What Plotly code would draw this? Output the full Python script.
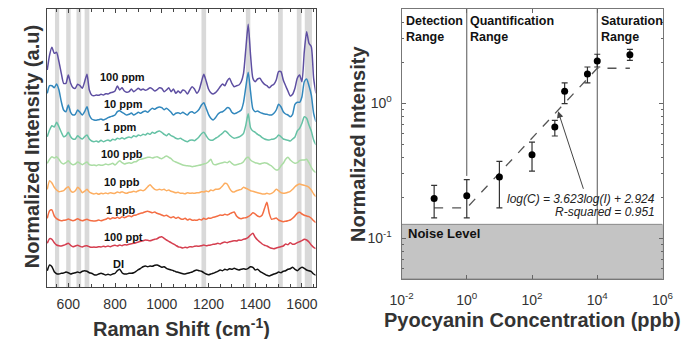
import math
import plotly.graph_objects as go

# ---------------- Left panel data (Raman spectra, stacked, arbitrary units) ----------------
wavenumber = [510, 520, 530, 540, 550, 560, 570, 580, 590, 600,
              610, 620, 630, 640, 650, 660, 670, 680, 690, 700,
              710, 720, 730, 740, 750, 760, 770, 780, 790, 800,
              810, 820, 830, 840, 850, 860, 870, 880, 890, 900,
              910, 920, 930, 940, 950, 960, 970, 980, 990, 1000,
              1010, 1020, 1030, 1040, 1050, 1060, 1070, 1080, 1090, 1100,
              1110, 1120, 1130, 1140, 1150, 1160, 1170, 1180, 1190, 1200,
              1210, 1220, 1230, 1240, 1250, 1260, 1270, 1280, 1290, 1300,
              1310, 1320, 1330, 1340, 1350, 1360, 1370, 1380, 1390, 1400,
              1410, 1420, 1430, 1440, 1450, 1460, 1470, 1480, 1490, 1500,
              1510, 1520, 1530, 1540, 1550, 1560, 1570, 1580, 1590, 1600,
              1610, 1620, 1630, 1640, 1650, 1660]

spec_100ppm = [217, 232, 239.7, 233.7, 234.7, 225.3, 213.7, 203.7, 203.7, 212,
               203.7, 199.3, 198.7, 202.7, 201.3, 198.7, 205.3, 212.7, 197, 192,
               191.3, 192, 191.7, 192.7, 192, 193.3, 193, 194.3, 194.7, 196,
               201, 197, 199.3, 196, 194.7, 195.3, 198, 195.3, 197, 198.7,
               197, 198, 196.7, 197.7, 199.3, 198, 196, 197.3, 199.3, 198.7,
               195.3, 197, 199.3, 195.3, 198, 193.7, 196, 194, 197, 196,
               193, 197, 200.3, 198, 193.7, 197, 205.3, 212.7, 206, 198,
               194.3, 193, 194.3, 197, 200.3, 203, 201.3, 206, 208.7, 203.7,
               200.3, 201.3, 202, 205.3, 213.7, 238.7, 262.7, 232, 208.7, 205.3,
               208, 208.7, 205.3, 202.7, 201.3, 199.3, 201.3, 202.7, 207, 215.3,
               215.3, 207, 201.3, 196, 191, 192.7, 198.7, 208.7, 212, 205.3,
               235.3, 255.3, 243.7, 240.3, 208.7, 193.7]

spec_10ppm = [193.7, 201.3, 201.3, 199.3, 203, 197, 185.3, 177, 175.3, 182,
              174.7, 172, 172.7, 177, 174.7, 172, 175.3, 180.3, 172, 168,
              167, 166.7, 167.3, 168, 167, 168, 169.3, 170.3, 171, 172,
              175.3, 176.3, 174.7, 173.3, 172, 172.7, 174, 172, 173.3, 174.7,
              173.7, 175.3, 176, 174.7, 177, 178.7, 177.7, 179.3, 180, 179.3,
              177.3, 178.7, 177, 174.7, 172, 173.7, 174.3, 173.3, 174.7, 173.3,
              172, 174.7, 175.3, 173.7, 175.3, 177.7, 182, 184.3, 178.7, 172.7,
              168.7, 167, 169.3, 172.7, 174.7, 175.3, 177, 179.3, 178.7, 174.7,
              173.3, 174, 175.3, 177, 184.7, 200.3, 214.7, 195.3, 178, 175.3,
              176, 174.7, 173.7, 173, 172.7, 172, 172, 173.7, 177, 182.7,
              180.3, 175.3, 173, 172, 170.3, 172.7, 182.7, 184.7, 184.7, 190.3,
              205.3, 208, 201.3, 192, 173.7, 165.3]

spec_1ppm = [150.3, 157, 161.3, 160, 164.7, 160.3, 154.7, 150.3, 151.3, 154.7,
             150.3, 148, 148, 151.3, 149.3, 148, 150.3, 152, 148, 146,
             145.3, 146, 145, 146.7, 145.3, 146.3, 147, 146, 147.7, 147,
             148.7, 148, 149.3, 148, 149.3, 150, 149.3, 151.3, 150.3, 152,
             151.3, 152.7, 152, 153.7, 152.7, 154.7, 153.7, 155.3, 156, 154.7,
             152.7, 151.3, 153.3, 151.3, 150.3, 148.7, 148, 148.7, 147.3, 146,
             145.3, 146.7, 147, 146.3, 148, 150.3, 153.3, 154.7, 151.3, 148,
             146.7, 147, 148.7, 150, 152, 153.7, 156, 154.7, 152, 150,
             148.7, 149.3, 150, 151.3, 153.7, 162, 173.3, 159.3, 156, 154.7,
             152.7, 151.3, 149.3, 148, 147.3, 147, 147.7, 148, 149.3, 152,
             150.3, 148, 147.3, 146.7, 146, 148, 150, 156, 158.7, 163.7,
             170.3, 168.7, 162, 156, 147, 142]

spec_100ppb = [123.7, 127.7, 130.3, 129, 130.3, 127.7, 124.3, 123, 124.3, 126.3,
               123.7, 122.3, 123, 125, 123.7, 122.3, 123.7, 125, 122.3, 121.7,
               122, 121.3, 122.3, 121.7, 122, 123, 122.3, 122.7, 123.7, 122,
               124.3, 126.3, 124.3, 123, 123.7, 124.3, 123.7, 125, 125.3, 127,
               127.7, 128.3, 129, 129.7, 129.7, 129, 129.7, 130.3, 129, 128.3,
               129.7, 131, 129.7, 128.3, 126, 125, 124, 123, 122, 121.5,
               121.3, 121, 120.3, 120.7, 121.3, 121.7, 122.3, 123, 123.7, 125.3,
               127.7, 123, 122.3, 123, 123.7, 124.3, 125, 124.3, 125.7, 123.7,
               122, 122.3, 123, 123.7, 125.3, 128.7, 129.7, 127, 125.3, 124.3,
               123.7, 123, 123.7, 124.3, 123.7, 122.3, 121, 118.7, 117, 117.7,
               121, 123.7, 127.7, 129.7, 127, 125, 123.7, 124.3, 126.3, 127,
               127, 127.7, 124.3, 119.7, 116.3, 114.3]

spec_10ppb = [97.7, 106.3, 104, 99.7, 97, 95.3, 95.7, 96.3, 98.7, 100.3,
              96.3, 94.7, 96.3, 99.7, 97.7, 94.3, 95.7, 97.7, 95, 93.7,
              93, 93.7, 92.7, 93.7, 93.3, 94, 93.3, 94.3, 93.7, 93.7,
              95, 94.3, 95.3, 94.3, 93.7, 94.7, 95, 95.7, 95, 96.3,
              97, 96.3, 97.7, 100.3, 102.3, 99.7, 97.7, 97, 97.7, 97,
              97.7, 96.3, 97, 95.7, 95, 94.3, 94.7, 93.7, 93.7, 93.3,
              94.3, 93.7, 94, 93.7, 94.3, 94.3, 95.3, 95, 96, 95.3,
              97, 96.3, 97.7, 97.7, 98.7, 101, 103.7, 103, 98.7, 95.7,
              95, 96.3, 97, 97.7, 99.7, 98.7, 97.7, 96.3, 95.7, 95,
              94.3, 93.7, 93, 93, 93.7, 93, 93.7, 95.3, 97.7, 96.3,
              94.3, 93.7, 94, 94.7, 95.7, 97.7, 100.3, 102, 103, 102.3,
              101.7, 101, 99.7, 97, 93, 90.3]

spec_1ppb = [68.7, 76.3, 77, 71, 68.3, 67, 66.3, 66.7, 67, 68,
             67, 66.3, 67, 68.3, 67, 66.3, 67, 67.7, 66.7, 66.3,
             66, 66.3, 67, 66.3, 67, 67.7, 69, 68, 69.3, 68.7,
             69.7, 68.7, 70.3, 69.3, 70.3, 71.3, 70.3, 71.7, 72, 73,
             73.7, 74.3, 75.3, 75.7, 75, 74.3, 75, 73.7, 73, 72,
             71, 71.7, 70.3, 69.3, 70.3, 68.7, 69.7, 68.3, 67.7, 68.7,
             67, 68, 66.7, 67, 66.7, 67.7, 67, 68.7, 67.7, 69,
             68.7, 69.7, 70.3, 71, 72, 71.7, 72.7, 72, 73, 74.3,
             75, 71, 69, 68.3, 69, 69.3, 70.3, 72, 74.3, 73,
             71, 70.3, 72, 78.7, 84.7, 73.7, 67.7, 68.3, 69, 67,
             66, 65.3, 65.7, 66.3, 67, 68.7, 71, 73.7, 74.7, 73,
             71.7, 71, 70.3, 68.7, 66.3, 64.3]

spec_100ppt = [43.7, 48.3, 47.7, 44.3, 42, 41.3, 41, 41.7, 42.7, 43.7,
               41.7, 40.3, 41, 41.7, 40.7, 40, 41, 41.3, 40.3, 39.7,
               40, 39.7, 40.3, 40, 40.7, 40.3, 41, 40.3, 41.3, 41.7,
               41, 42, 41.3, 42.3, 42, 42.7, 43.3, 43.7, 44.3, 45,
               45.7, 46.3, 47, 46.7, 46.3, 47, 47.7, 48.3, 49.7, 50.3,
               48.7, 47, 45.7, 44.3, 43, 41.7, 40.3, 39.7, 39, 39.7,
               39.3, 40.3, 40, 40.7, 41, 40.7, 41.3, 42, 41.3, 41.7,
               42, 42.7, 43, 43.7, 43, 44.3, 45, 44.3, 45.3, 45.7,
               46.3, 46, 47, 46.7, 47.7, 48.3, 49.7, 52, 53.7, 49.7,
               47, 45, 43, 41.7, 41, 39.7, 38.7, 38.3, 39, 39.7,
               40.3, 41, 43, 42.3, 44.3, 42.7, 43, 44.3, 45.3, 46.3,
               47.7, 47, 45, 42, 39.7, 38.3]

spec_DI = [16.3, 22, 20.3, 15.3, 13.3, 13, 13.7, 14, 15, 14.3,
           13, 13.7, 14.3, 15, 14.3, 15.7, 16.3, 15.7, 14.3, 13.7,
           12.3, 12, 13, 13.7, 13, 12, 12.7, 12, 13, 13.7,
           16.3, 17.7, 14.3, 13, 13, 13.7, 13.7, 14.3, 15.7, 17.3,
           18.7, 20.3, 21, 20.3, 21, 20.7, 21.7, 22, 21, 19.7,
           20.3, 18.7, 17.7, 17, 16.3, 15.3, 14.7, 14, 13.3, 13,
           13.7, 14.3, 15, 16.3, 17, 16.3, 15.7, 14.3, 13, 12.3,
           13, 13.7, 14.7, 15.7, 17, 16.3, 17.7, 17, 18.3, 17.7,
           18.7, 17.7, 17, 17.7, 18.3, 17.7, 18.7, 20.3, 19.7, 17,
           17.7, 15.7, 14.3, 13, 11.7, 11, 12, 13, 13.7, 15,
           14.3, 15.7, 16.3, 17.7, 18.3, 19.7, 17.7, 16.3, 18.3, 19.7,
           18.7, 17, 16.3, 15.3, 13, 11.7]

spectra_names = ["100 ppm", "10 ppm", "1 ppm", "100 ppb", "10 ppb", "1 ppb", "100 ppt", "DI"]
spectra = [spec_100ppm, spec_10ppm, spec_1ppm, spec_100ppb, spec_10ppb, spec_1ppb, spec_100ppt, spec_DI]

# highlighted Raman bands (cm-1)
band_start = [543, 591, 635, 670, 1170, 1360, 1498, 1578, 1612]
band_end = [561, 610, 655, 690, 1190, 1379, 1518, 1598, 1643]

# ---------------- Right panel data (calibration) ----------------
conc_ppb = [0.1, 1, 10, 100, 500, 1000, 5000, 10000, 100000]
norm_intensity = [0.197, 0.207, 0.285, 0.417, 0.668, 1.23, 1.65, 2.06, 2.29]
err_plus = [0.050, 0.065, 0.087, 0.100, 0.080, 0.19, 0.21, 0.25, 0.22]
err_minus = [0.055, 0.065, 0.117, 0.102, 0.095, 0.235, 0.23, 0.20, 0.21]

fit_conc = [0.1, 1, 10000, 100000]
fit_intensity = [0.168, 0.168, 1.82, 1.82]

noise_level = 0.127
range_bounds = [1, 10000]
range_bound_bottom = [0.29, 0.127]

x_tick_vals = [1e-2, 1e0, 1e2, 1e4, 1e6]
x_tick_text = ["10<sup>-2</sup>", "10<sup>0</sup>", "10<sup>2</sup>", "10<sup>4</sup>", "10<sup>6</sup>"]
y_tick_vals = [0.1, 1]
y_tick_text = ["10<sup>-1</sup>", "10<sup>0</sup>"]

# ---------------- styling ----------------
W, H = 688, 339
FONT = "Arial, Liberation Sans, Helvetica, sans-serif"
colors = ["#5e4fa2", "#3288bd", "#66c2a5", "#abdda4", "#fdae61", "#f46d43", "#d53e4f", "#111111"]
label_pos = [(831, 210), (835, 182.7), (824, 159.7), (831, 133), (831, 104.7), (824, 77), (835, 49.7), (817, 23)]


def px(x):
    return x / W


def py(y):
    return 1 - y / H


fig = go.Figure()

for name, spec, col in zip(spectra_names, spectra, colors):
    fig.add_trace(go.Scatter(x=wavenumber, y=spec, mode="lines", name=name,
                             line=dict(color=col, width=1.5, shape="spline", smoothing=0.6),
                             xaxis="x", yaxis="y", showlegend=False, hoverinfo="skip"))

# right panel: noise region
fig.add_trace(go.Scatter(x=[1e-2, 1e6, 1e6, 1e-2, 1e-2],
                         y=[0.05, 0.05, noise_level, noise_level, 0.05],
                         mode="lines", fill="toself", fillcolor="#c4c4c4",
                         line=dict(color="#8a8a8a", width=1),
                         xaxis="x2", yaxis="y2", showlegend=False, hoverinfo="skip"))

# range boundaries
for xb, yb in zip(range_bounds, range_bound_bottom):
    fig.add_trace(go.Scatter(x=[xb, xb], y=[yb, 5], mode="lines",
                             line=dict(color="#555555", width=1),
                             xaxis="x2", yaxis="y2", showlegend=False, hoverinfo="skip"))

# fit line
fig.add_trace(go.Scatter(x=fit_conc, y=fit_intensity, mode="lines",
                         line=dict(color="#555555", width=1.3, dash="dash"),
                         xaxis="x2", yaxis="y2", showlegend=False, hoverinfo="skip"))

# data points with error bars
fig.add_trace(go.Scatter(x=conc_ppb, y=norm_intensity, mode="markers",
                         marker=dict(color="black", size=7),
                         error_y=dict(type="data", symmetric=False, array=err_plus,
                                      arrayminus=err_minus, color="#333333",
                                      thickness=1.2, width=3),
                         xaxis="x2", yaxis="y2", showlegend=False, hoverinfo="skip"))

shapes = []
for b0, b1 in zip(band_start, band_end):
    shapes.append(dict(type="rect", xref="x", yref="y domain", x0=b0, x1=b1, y0=0, y1=1,
                       fillcolor="#d9d9d9", line=dict(width=0), layer="below"))

annotations = []
for name, (lx, ly) in zip(spectra_names, label_pos):
    annotations.append(dict(x=lx, y=ly, xref="x", yref="y", text="<b>%s</b>" % name,
                            showarrow=False, font=dict(family=FONT, size=11, color="#111")))

title_font = dict(family=FONT, size=20, color="#333333")
annotations += [
    dict(x=px(175), y=py(327), xref="paper", yref="paper", showarrow=False,
         text="<b>Raman Shift (cm<sup>-1</sup>)</b>", font=title_font,
         xanchor="center", yanchor="middle"),
    dict(x=px(21), y=py(147), xref="paper", yref="paper", showarrow=False,
         text="<b>Normalized Intensity (a.u)</b>", font=title_font, textangle=-90,
         xanchor="center", yanchor="middle"),
    dict(x=px(358), y=py(144), xref="paper", yref="paper", showarrow=False,
         text="<b>Normalized Intensity</b>", font=title_font, textangle=-90,
         xanchor="center", yanchor="middle"),
    dict(x=px(538), y=py(320), xref="paper", yref="paper", showarrow=False,
         text="<b>Pyocyanin Concentration (ppb)</b>", font=title_font,
         xanchor="center", yanchor="middle"),
]

lab_font = dict(family=FONT, size=12.5, color="#111")
annotations += [
    dict(x=px(406), y=py(12), xref="paper", yref="paper", showarrow=False, align="left",
         text="<b>Detection<br>Range</b>", font=lab_font, xanchor="left", yanchor="top"),
    dict(x=px(472), y=py(12), xref="paper", yref="paper", showarrow=False, align="left",
         text="<b>Quantification<br>Range</b>", font=lab_font, xanchor="left", yanchor="top"),
    dict(x=px(607), y=py(12), xref="paper", yref="paper", showarrow=False, align="left",
         text="<b>Saturation<br>Range</b>", font=lab_font, xanchor="left", yanchor="top"),
    dict(x=px(408), y=py(233), xref="paper", yref="paper", showarrow=False,
         text="<b>Noise Level</b>", font=dict(family=FONT, size=13, color="#111"),
         xanchor="left", yanchor="middle"),
    dict(x=px(667), y=py(199), xref="paper", yref="paper", showarrow=False,
         text="<i>log(C) = 3.623log(I) + 2.924</i>",
         font=dict(family=FONT, size=12, color="#222"), xanchor="right", yanchor="middle"),
    dict(x=px(667), y=py(212), xref="paper", yref="paper", showarrow=False,
         text="<i>R-squared = 0.951</i>",
         font=dict(family=FONT, size=12, color="#222"), xanchor="right", yanchor="middle"),
    dict(x=math.log10(630), y=math.log10(0.873), xref="x2", yref="y2",
         ax=3.59, ay=-0.644, axref="x2", ayref="y2", text="", showarrow=True,
         arrowhead=2, arrowsize=1.3, arrowwidth=1, arrowcolor="#444"),
]

tick_font = dict(family=FONT, size=14, color="#333333")
minor_y = [0.05, 0.06, 0.07, 0.08, 0.09, 0.2, 0.3, 0.4, 0.5, 0.6, 0.7, 0.8, 0.9, 2, 3, 4, 5]

fig.update_layout(
    width=W, height=H,
    margin=dict(l=0, r=0, t=0, b=0),
    paper_bgcolor="white", plot_bgcolor="white",
    showlegend=False,
    hovermode=False,
    shapes=shapes,
    annotations=annotations,
    xaxis=dict(domain=[px(36), px(314)], range=[508, 1658], anchor="y",
               tick0=0, dtick=200, ticks="inside", ticklen=4, tickcolor="#444",
               minor=dict(dtick=50, tick0=0, ticks="inside", ticklen=3, tickcolor="#444"),
               showline=True, linecolor="#444", linewidth=1, mirror="ticks",
               showgrid=False, zeroline=False, tickfont=tick_font, ticklabelstandoff=4),
    yaxis=dict(domain=[py(287), py(9)], range=[0, 278], anchor="x",
               showticklabels=False, ticks="", showline=True, linecolor="#444",
               linewidth=1, mirror=True, showgrid=False, zeroline=False),
    xaxis2=dict(domain=[px(403), px(673)], type="log", range=[-2, 6], anchor="y2",
                tickvals=x_tick_vals, ticktext=x_tick_text, ticks="inside", ticklen=4,
                tickcolor="#666", showline=True, linecolor="#777", linewidth=1,
                mirror="ticks", showgrid=False, zeroline=False, tickfont=tick_font,
                ticklabelstandoff=8),
    yaxis2=dict(domain=[py(279), py(9)], type="log",
                range=[math.log10(0.05), math.log10(5)], anchor="x2",
                tickvals=y_tick_vals, ticktext=y_tick_text, ticks="inside", ticklen=4,
                tickcolor="#666",
                minor=dict(tickvals=minor_y, ticks="inside", ticklen=2, tickcolor="#666"),
                showline=True, linecolor="#777", linewidth=1, mirror="ticks",
                showgrid=False, zeroline=False, tickfont=tick_font, ticklabelstandoff=6),
)

fig.write_html("out.html", config={"displayModeBar": False, "staticPlot": True},
               post_script="document.body.style.margin='0';document.body.style.overflow='hidden';")
